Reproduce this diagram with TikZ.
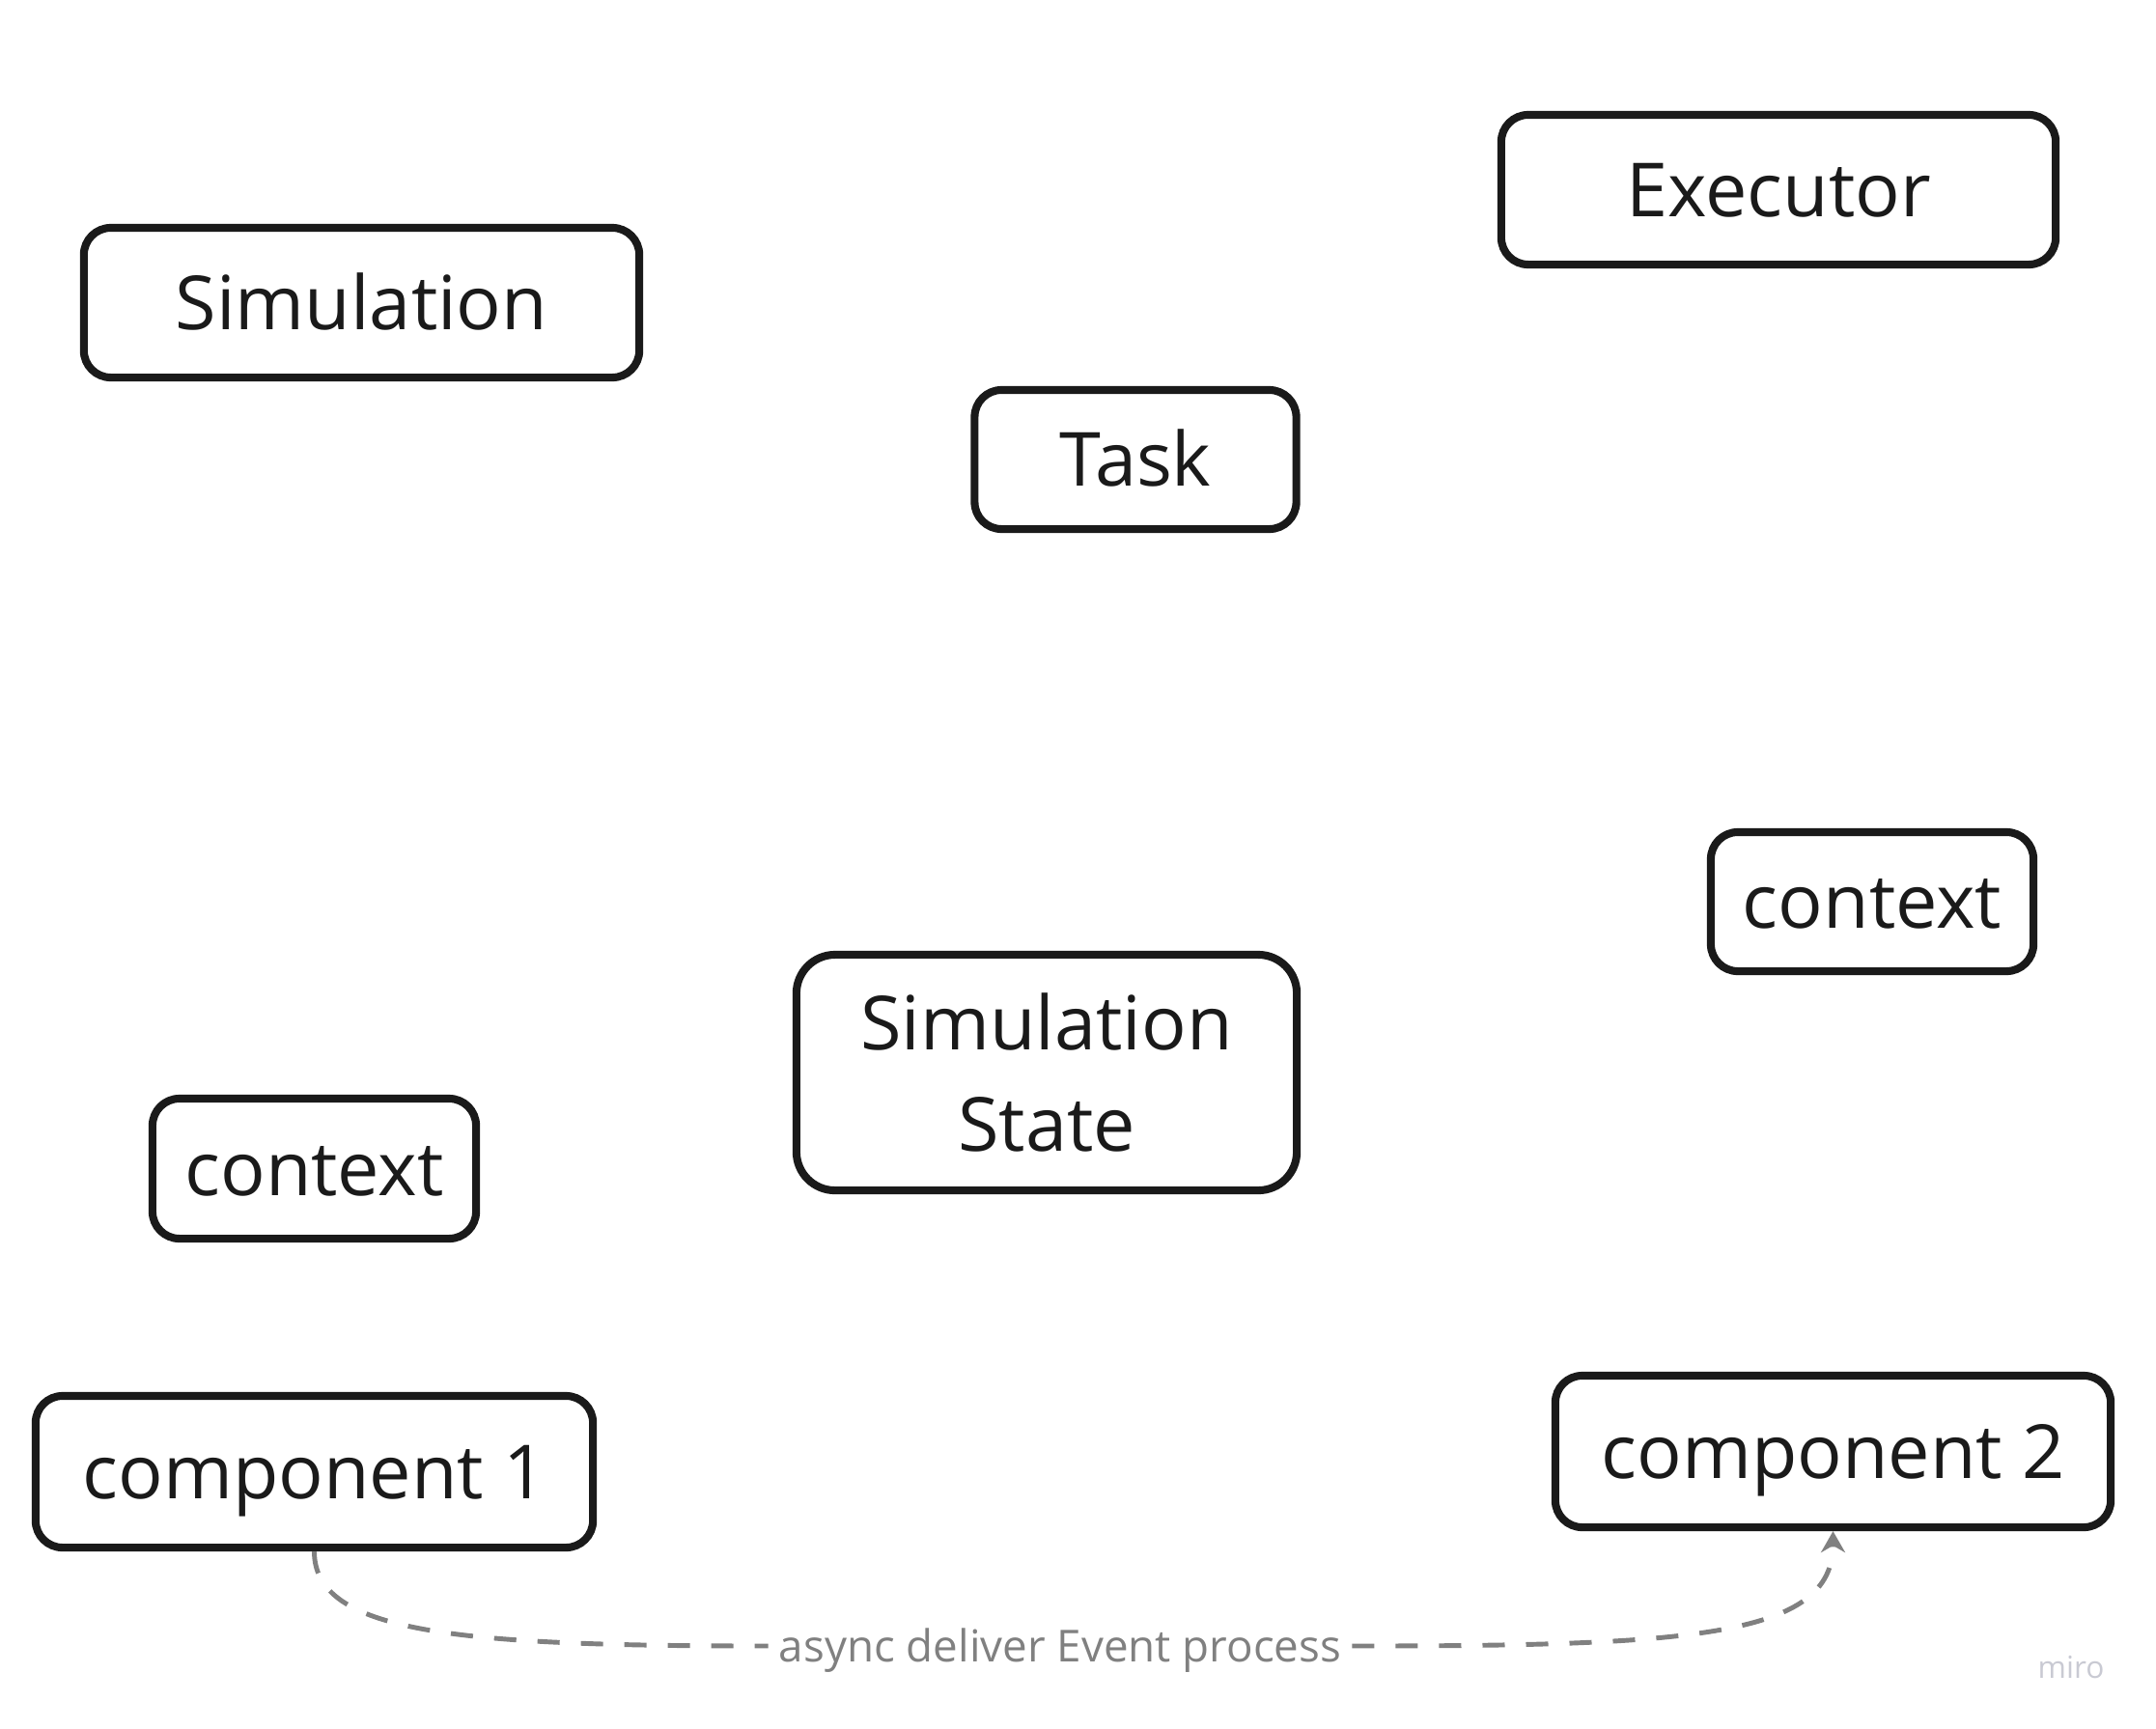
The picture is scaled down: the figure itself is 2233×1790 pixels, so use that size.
\documentclass[tikz,border=0pt]{standalone}
\usepackage{fontspec}
\setmainfont{Open Sans}
\usetikzlibrary{arrows.meta}
\definecolor{ink}{HTML}{1A1A1A}
\definecolor{flowgray}{HTML}{808080}
\definecolor{logogray}{HTML}{C9CAD3}
\tikzset{
  box/.style={draw=ink, line width=2.3pt, rounded corners=0.28cm, text=ink,
    font=\fontsize{22}{30}\selectfont, align=center, inner sep=0pt},
  oneline/.style={text height=15.7pt, text depth=0pt},
  flow/.style={draw=flowgray, line width=1.4pt, dash pattern=on 0.23cm off 0.22cm},
}
\begin{document}
\begin{tikzpicture}[x=0.01cm,y=-0.01cm]
    \useasboundingbox (0,0) rectangle (2233,1790);

    % Kaesten oben
    \node[box, oneline, minimum width=5.75cm, minimum height=1.55cm] (sim) at (374.5,313.5) {Simulation};
    \node[box, oneline, minimum width=5.74cm, minimum height=1.55cm] (exec) at (1842,196.5) {Executor};
    \node[box, oneline, minimum width=3.33cm, minimum height=1.44cm] (task) at (1176,476) {Task};

    % Mitte
    \node[box, oneline, minimum width=3.34cm, minimum height=1.44cm] (ctxr) at (1939,934) {context};
    \node[box, minimum width=5.18cm, minimum height=2.44cm, rounded corners=0.4cm] (state) at (1084,1111) {Simulation\\State};
    \node[box, oneline, minimum width=3.35cm, minimum height=1.45cm] (ctxl) at (325.5,1210.5) {context};

    % Komponenten
    \node[box, oneline, minimum width=5.77cm, minimum height=1.57cm] (c1) at (325.5,1524.5) {component 1};
    \node[box, oneline, minimum width=5.75cm, minimum height=1.57cm] (c2) at (1898.5,1503.5) {component 2};

    % Verbindung
    \node[text=flowgray, font=\fontsize{13}{16}\selectfont, inner sep=3pt, text height=9.3pt, text depth=0pt] (lbl) at (1098,1705) {async deliver Event process};
    \draw[flow] (c1.south) .. controls +(0,85) and +(-320,0) .. (lbl.west);
    \draw[flow,-{Stealth[length=0.22cm,width=0.25cm]}] (lbl.east) .. controls +(350,0) and +(0,110) .. (c2.south);

    \node[text=logogray, font=\fontsize{9}{10}\selectfont] (logo) at (2145,1727) {miro};
\end{tikzpicture}
\end{document}
